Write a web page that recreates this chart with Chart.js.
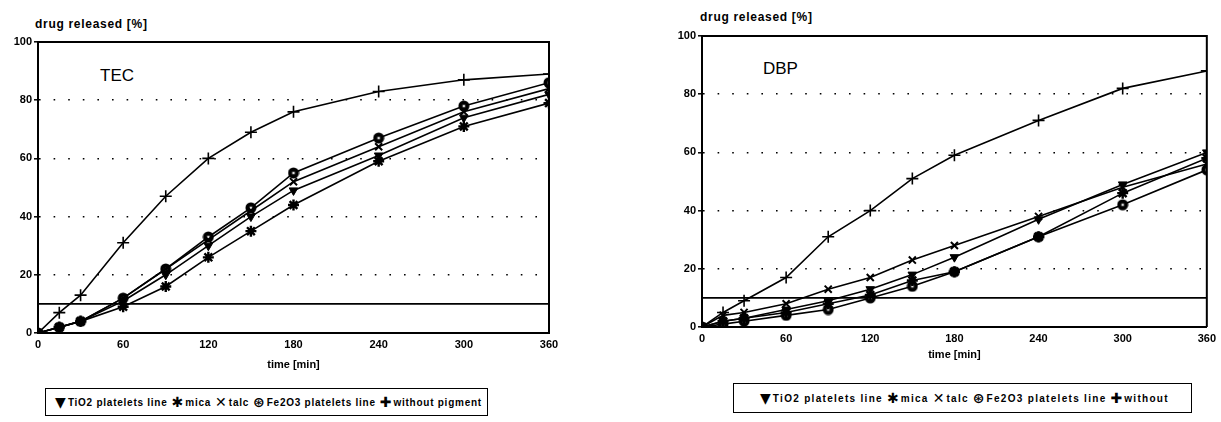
<!DOCTYPE html>
<html><head><meta charset="utf-8">
<script src="https://cdn.jsdelivr.net/npm/chart.js@4/dist/chart.umd.min.js"></script>
<style>
html,body{margin:0;padding:0;background:#fff;width:1221px;height:422px;overflow:hidden;font-family:'Liberation Sans',Arial,sans-serif;color:#000;}
.wrap{position:absolute;}
.ytitle{position:absolute;font-weight:bold;font-size:12px;letter-spacing:0.7px;line-height:1;white-space:nowrap;}
.tag{position:absolute;font-size:17px;line-height:1;}
.legend{position:absolute;border:1.5px solid #000;box-sizing:border-box;font-weight:bold;font-size:10px;display:flex;align-items:center;justify-content:center;white-space:nowrap;letter-spacing:0.75px;}
.sym{font-family:'DejaVu Sans',sans-serif;font-size:14px;margin:0 2px 0 4px;letter-spacing:0;}
</style></head>
<body>
<div class="ytitle" style="left:35px;top:18px">drug released [%]</div>
<div class="ytitle" style="left:700px;top:11px">drug released [%]</div>
<div class="tag" style="left:100px;top:67px">TEC</div>
<div class="tag" style="left:763px;top:60px">DBP</div>
<div class="wrap" style="left:0;top:0;width:610px;height:372px"><canvas id="c1"></canvas></div>
<div class="wrap" style="left:610px;top:0;width:611px;height:362px"><canvas id="c2"></canvas></div>
<div class="legend" style="left:45px;top:388px;width:443px;height:28px">
<span class="sym">▼</span>TiO2 platelets line <span class="sym">✱</span>mica <span class="sym">✕</span>talc <span class="sym">⊛</span>Fe2O3 platelets line <span class="sym">✚</span>without pigment
</div>
<div class="legend" style="left:733px;top:383px;width:459px;height:30px;letter-spacing:1.3px">
<span class="sym">▼</span>TiO2 platelets line <span class="sym">✱</span>mica <span class="sym">✕</span>talc <span class="sym">⊛</span>Fe2O3 platelets line <span class="sym">✚</span>without
</div>
<script>
// ---- data ----
const times = [0, 15, 30, 60, 90, 120, 150, 180, 240, 300, 360];
const xTickValues = [0, 60, 120, 180, 240, 300, 360];
const yTickValues = [0, 20, 40, 60, 80, 100];
const limitTimes = [0, 360];
const limitValues = [10, 10];

// TEC
const tecTiO2    = [0, 2, 4, 11, 20, 30, 40, 49, 61, 74, 82];
const tecMica    = [0, 2, 4, 9, 16, 26, 35, 44, 59, 71, 79];
const tecTalc    = [0, 2, 4, 12, 22, 32, 42, 52, 64, 76, 84];
const tecFe2O3   = [0, 2, 4, 12, 22, 33, 43, 55, 67, 78, 86];
const tecWithout = [0, 7, 13, 31, 47, 60, 69, 76, 83, 87, 89];

// DBP
const dbpTiO2    = [0, 2, 3, 6, 9, 13, 18, 24, 37, 49, 60];
const dbpMica    = [0, 2, 3, 5, 8, 11, 16, 19, 31, 46, 58];
const dbpTalc    = [0, 4, 5, 8, 13, 17, 23, 28, 38, 48, 56];
const dbpFe2O3   = [0, 1, 2, 4, 6, 10, 14, 19, 31, 42, 54];
const dbpWithout = [0, 5, 9, 17, 31, 40, 51, 59, 71, 82, 88];

const FONT = "'Liberation Sans', Arial, sans-serif";

function fe2o3Marker() {
  const c = document.createElement('canvas');
  c.width = 12; c.height = 12;
  const g = c.getContext('2d');
  g.fillStyle = '#000';
  g.beginPath(); g.arc(6, 6, 5.5, 0, Math.PI * 2); g.fill();
  g.strokeStyle = '#fff'; g.lineWidth = 0.7;
  for (let k = 0; k < 4; k++) {
    const a = k * Math.PI / 4;
    g.beginPath();
    g.moveTo(6 - 1.6 * Math.cos(a), 6 - 1.6 * Math.sin(a));
    g.lineTo(6 + 1.6 * Math.cos(a), 6 + 1.6 * Math.sin(a));
    g.stroke();
  }
  return c;
}
const FE = fe2o3Marker();

function pts(vals) { return times.map((t, i) => ({ x: t, y: vals[i] })); }

function series(label, vals, style) {
  return Object.assign({
    label, data: pts(vals), borderColor: '#000', backgroundColor: '#000',
    borderWidth: 1.6, pointBorderColor: '#000', pointBackgroundColor: '#000',
    tension: 0, fill: false
  }, style);
}

const styles = {
  tio2: { pointStyle: 'triangle', rotation: 180, pointRadius: 5, pointBorderWidth: 1 },
  mica: { pointStyle: 'star', pointRadius: 5.5, pointBorderWidth: 2.4 },
  talc: { pointStyle: 'crossRot', pointRadius: 5, pointBorderWidth: 2 },
  fe:   { pointStyle: FE, pointRadius: 6 },
  wo:   { pointStyle: 'cross', pointRadius: 6, pointBorderWidth: 1.6 }
};

const frame = {
  id: 'frame',
  afterDraw(chart) {
    const { ctx, chartArea: a } = chart;
    ctx.save();
    ctx.strokeStyle = '#000'; ctx.lineWidth = 2; ctx.setLineDash([]);
    ctx.beginPath();
    ctx.moveTo(a.left, a.top); ctx.lineTo(a.right, a.top); ctx.lineTo(a.right, a.bottom);
    ctx.stroke();
    ctx.restore();
  }
};

function makeChart(id, sets, pad, yWidth, xHeight) {
  const datasets = [
    series('TiO2 platelets line', sets[0], styles.tio2),
    series('mica', sets[1], styles.mica),
    series('talc', sets[2], styles.talc),
    series('Fe2O3 platelets line', sets[3], styles.fe),
    series('without pigment', sets[4], styles.wo),
    {
      label: 'limit', data: limitTimes.map((t, i) => ({ x: t, y: limitValues[i] })),
      borderColor: '#000', borderWidth: 1.6, pointRadius: 0, fill: false
    }
  ];
  return new Chart(document.getElementById(id), {
    type: 'line',
    data: { datasets },
    plugins: [frame],
    options: {
      responsive: true, maintainAspectRatio: false, animation: false,
      layout: { padding: pad },
      plugins: { legend: { display: false }, tooltip: { enabled: false } },
      scales: {
        x: {
          type: 'linear', min: xTickValues[0], max: xTickValues[xTickValues.length - 1],
          afterBuildTicks: s => { s.ticks = xTickValues.map(v => ({ value: v })); },
          afterFit: s => { s.height = xHeight; },
          ticks: { color: '#000', font: { family: FONT, size: 11, weight: 'bold' }, padding: 5, maxRotation: 0, autoSkip: false },
          grid: { display: false, drawTicks: false },
          border: { display: true, color: '#000', width: 2 },
          title: { display: true, text: 'time [min]', color: '#000', font: { family: FONT, size: 11, weight: 'bold' }, padding: { top: 0, bottom: 0 } }
        },
        y: {
          type: 'linear', min: yTickValues[0], max: yTickValues[yTickValues.length - 1],
          afterBuildTicks: s => { s.ticks = yTickValues.map(v => ({ value: v })); },
          afterFit: s => { s.width = yWidth; },
          ticks: { color: '#000', font: { family: FONT, size: 11, weight: 'bold' }, padding: 2 },
          grid: {
            color: c => (c.tick && (c.tick.value === 0 || c.tick.value === 100)) ? 'rgba(0,0,0,0)' : '#000',
            lineWidth: 1.6, drawTicks: true, tickLength: 4, tickColor: '#000', tickWidth: 1.5
          },
          border: { display: true, color: '#000', width: 2, dash: [1.6, 13] }
        }
      }
    }
  });
}

makeChart('c1', [tecTiO2, tecMica, tecTalc, tecFe2O3, tecWithout], { left: 0, top: 42, right: 61, bottom: 0 }, 38, 39);
makeChart('c2', [dbpTiO2, dbpMica, dbpTalc, dbpFe2O3, dbpWithout], { left: 0, top: 36, right: 14, bottom: 0 }, 92, 35);
</script>
</body></html>
